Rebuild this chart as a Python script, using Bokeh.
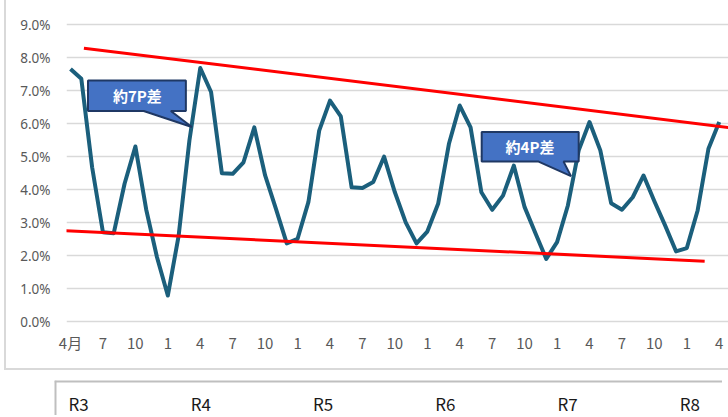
from bokeh.plotting import figure
from bokeh.models import Range1d, FixedTicker, PrintfTickFormatter, ColumnDataSource, Span
from bokeh.layouts import column
from bokeh.embed import file_html
from bokeh.resources import INLINE
from bokeh.core.properties import value

# ---- data (R3 April .. R8 April, monthly, %) ----
rate = [7.66, 7.36, 4.68, 2.71, 2.68, 4.18, 5.31, 3.40, 1.95, 0.79,
        2.60, 5.50, 7.69, 6.96, 4.50, 4.48, 4.83, 5.89, 4.43, 3.42,
        2.37, 2.51, 3.62, 5.79, 6.70, 6.22, 4.07, 4.05, 4.23, 5.00,
        3.92, 3.01, 2.37, 2.73, 3.57, 5.39, 6.55, 5.89, 3.92, 3.39,
        3.82, 4.73, 3.47, 2.68, 1.90, 2.41, 3.52, 5.19, 6.05, 5.19,
        3.59, 3.39, 3.77, 4.43, 3.65, 2.91, 2.13, 2.23, 3.37, 5.24, 6.05]
month_idx = list(range(len(rate)))
month_labels = ["4月", "7", "10", "1", "4", "7", "10", "1", "4", "7", "10", "1",
                "4", "7", "10", "1", "4", "7", "10", "1", "4"]
month_label_pos = list(range(0, 61, 3))
y_ticks = [0, 1, 2, 3, 4, 5, 6, 7, 8, 9]
years = ["R3", "R4", "R5", "R6", "R7", "R8"]

# trend lines (month index, %)
upper_x = [1.24, 61.0]
upper_y = [8.29, 5.88]
lower_x = [-0.71, 58.65]
lower_y = [2.76, 1.83]

# callouts (month index, %)
call1_x = [1.62, 10.67, 10.67, 9.28, 11.22, 6.77, 1.62]
call1_y = [7.31, 7.31, 6.385, 6.385, 5.90, 6.385, 6.385]
call1_text = "約7P差"
call1_pos = (6.18, 6.84)
call2_x = [38.03, 47.0, 47.0, 45.6, 46.29, 43.29, 38.03]
call2_y = [5.75, 5.75, 4.85, 4.85, 4.41, 4.85, 4.85]
call2_text = "約4P差"
call2_pos = (42.5, 5.31)

# ---- main chart ----
p = figure(width=724, height=370, x_range=Range1d(-0.37, 61.04), y_range=Range1d(-0.27, 9.28),
           output_backend="svg", toolbar_location=None,
           min_border_left=60, min_border_right=0, min_border_top=15, min_border_bottom=40)
p.styles = {"border-left": "2px solid #d9d9d9", "border-bottom": "2px solid #d9d9d9",
            "margin-left": "4px"}
p.outline_line_color = None
p.background_fill_color = "white"
p.border_fill_color = "white"

p.yaxis.ticker = FixedTicker(ticks=y_ticks)
p.yaxis.formatter = PrintfTickFormatter(format="%.1f%%")
p.xaxis.ticker = FixedTicker(ticks=month_label_pos)
p.xaxis.major_label_overrides = {pos: lab for pos, lab in zip(month_label_pos, month_labels)}
for ax in (p.xaxis, p.yaxis):
    ax.axis_line_color = None
    ax.major_tick_line_color = None
    ax.minor_tick_line_color = None
    ax.major_tick_in = 0
    ax.major_tick_out = 0
    ax.major_label_text_color = "#595959"
p.yaxis.major_label_standoff = 16
p.yaxis.major_label_text_font = "Noto Sans"
p.yaxis.major_label_text_font_size = "13.5px"
p.xaxis.major_label_standoff = 1
p.xaxis.major_label_text_font = "Noto Sans CJK JP"
p.xaxis.major_label_text_font_size = "15px"

p.xgrid.visible = False
p.ygrid.grid_line_color = "#d9d9d9"
p.ygrid.grid_line_width = 1.3

src = ColumnDataSource(dict(x=month_idx, y=rate))
p.line("x", "y", source=src, line_color="#1b5f7c", line_width=4, line_join="round")

p.line(upper_x, upper_y, line_color="#ff0000", line_width=3)
p.line(lower_x, lower_y, line_color="#ff0000", line_width=3)

for cx, cy, txt, pos in ((call1_x, call1_y, call1_text, call1_pos),
                         (call2_x, call2_y, call2_text, call2_pos)):
    p.patch(cx, cy, fill_color="#4472c4", line_color="#1f3864", line_width=2)
    p.text(x=[pos[0]], y=[pos[1]], text=[txt], text_color="white",
           text_font=value("Noto Sans CJK JP"), text_font_style="bold",
           text_font_size="15px", text_align="center", text_baseline="middle")

# ---- year row ----
q = figure(width=734, height=45, x_range=Range1d(-0.114, 5.35), y_range=Range1d(0, 35),
           output_backend="svg", toolbar_location=None, x_axis_type=None, y_axis_type=None,
           min_border_left=56, min_border_right=0, min_border_top=10, min_border_bottom=0)
q.styles = {"margin-left": "-6px"}
q.grid.visible = False
q.outline_line_color = None
q.add_layout(Span(location=-0.114, dimension="height", line_color="#bfbfbf", line_width=4))
q.add_layout(Span(location=35, dimension="width", line_color="#bfbfbf", line_width=4))
q.text(x=list(range(len(years))), y=[12] * len(years), text=years, text_color="#1a1a1a",
       text_font=value("Noto Sans CJK JP"), text_font_size="17px",
       text_align="left", text_baseline="middle")

layout = column(p, q, spacing=0)
open("out.html", "w").write(file_html(layout, INLINE))
